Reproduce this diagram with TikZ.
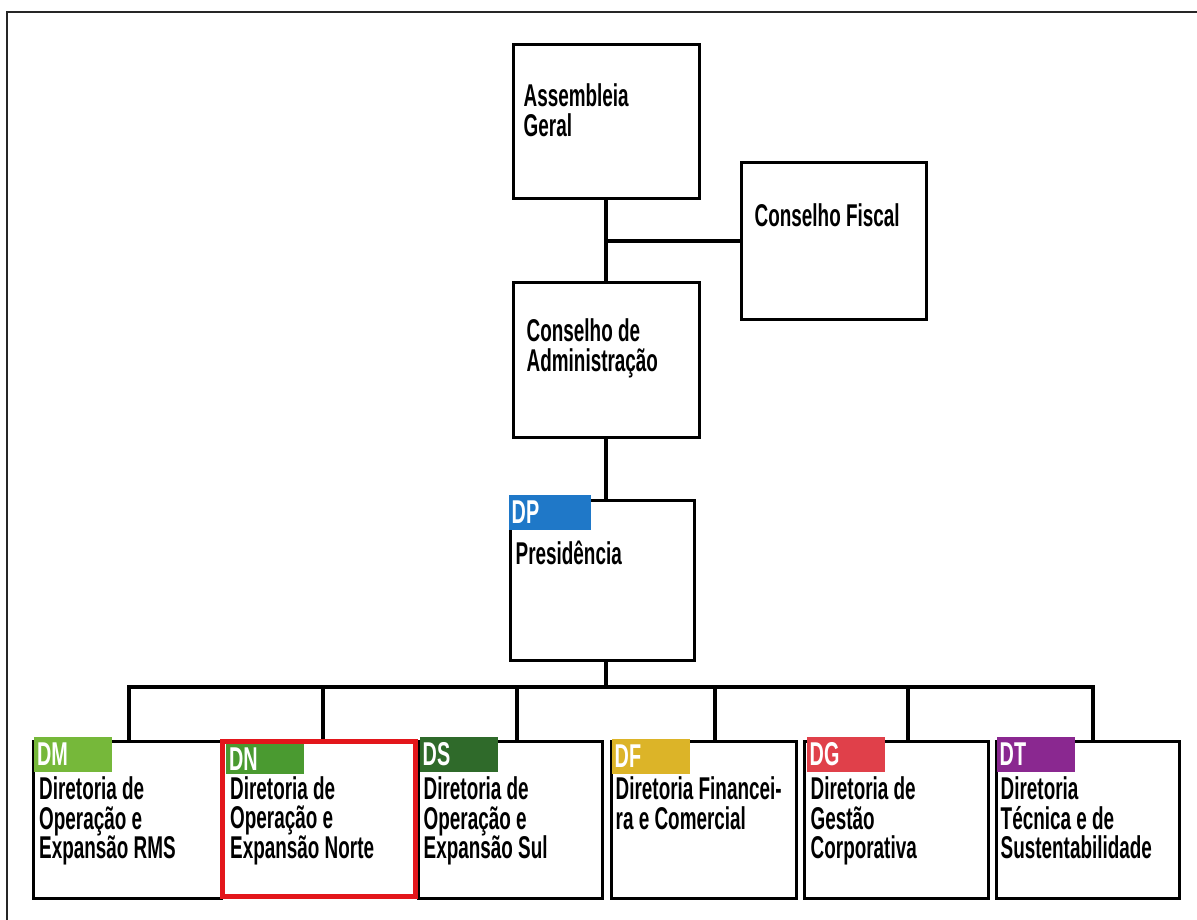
\documentclass[tikz,border=0pt]{standalone}
\usepackage{fontspec}
\setmainfont{Liberation Sans}[FakeStretch=0.69,BoldFeatures={FakeStretch=0.6}]
\usetikzlibrary{calc}
\definecolor{cDP}{HTML}{1F78C8}
\definecolor{cDM}{HTML}{76B83A}
\definecolor{cDN}{HTML}{4A9A30}
\definecolor{cDS}{HTML}{2F6A2A}
\definecolor{cDF}{HTML}{DCB428}
\definecolor{cDG}{HTML}{E0404A}
\definecolor{cDT}{HTML}{8A2890}
\definecolor{cRed}{HTML}{E3161B}

\begin{document}
\begin{tikzpicture}[x=1pt,y=-1pt,
    box/.style={draw,line width=3pt,inner sep=0pt},
    conn/.style={line width=4pt},
    txt/.style={anchor=north west,align=left,inner sep=0pt,font=\fontsize{31.5}{29.5}\selectfont\bfseries},
    tag/.style={fill=#1,text=white,anchor=north west,inner xsep=3pt,inner ysep=0pt,text width=72pt,minimum height=35pt,font=\fontsize{33}{33}\selectfont\bfseries}]
        \useasboundingbox (0,0) rectangle (1197,919);
        \draw[line width=2pt,black!85] (7,925) -- (7,12) -- (1205,12);
        % top of the chart
        \node[box,minimum width=186,minimum height=154] (ag) at (606,121) {};
        \node[box,minimum width=185,minimum height=157] (cf) at (833.5,240.5) {};
        \node[box,minimum width=186,minimum height=155] (ca) at (606,359.5) {};
        \node[box,minimum width=184,minimum height=160] (dp) at (602,580) {};
        \node[txt] (agt) at ([shift={(12,41)}]ag.north west) {Assembleia\\Geral};
        \node[txt] (cft) at ([shift={(15,43)}]cf.north west) {Conselho Fiscal};
        \node[txt] (cat) at ([shift={(15,38)}]ca.north west) {Conselho de\\Administração};
        \node[tag=cDP,text width=76pt] (dptag) at ([shift={(0,-4)}]dp.north west) {DP};
        \node[txt] (dpt) at ([shift={(7,42)}]dp.north west) {Presidência};
        \draw[conn] (ag) -- (ca);
        \draw[conn] (cf.west) -- (cf.west -| ag.south);
        \draw[conn] (ca.south) -- (ca.south |- dp.north);
        % directorates
        \node[box,minimum width=188,minimum height=157] (dm) at (127.5,819.5) {};
        \node[box,minimum width=184,minimum height=157] (ds) at (510,819.5) {};
        \node[box,minimum width=185,minimum height=157] (df) at (703.5,819.5) {};
        \node[box,minimum width=184,minimum height=157] (dg) at (896,819.5) {};
        \node[box,minimum width=183,minimum height=157] (dt) at (1087.5,819.5) {};
        \node[box,draw=cRed,line width=5pt,fill=white,minimum width=193,minimum height=155] (dn) at (319,819) {};
        \node[tag=cDM] (dmtag) at ([shift={(2,-3)}]dm.north west) {DM};
        \node[tag=cDN,minimum height=30pt] (dntag) at ([shift={(6,4.5)}]dn.north west) {DN};
        \node[tag=cDS] (dstag) at ([shift={(3,-3)}]ds.north west) {DS};
        \node[tag=cDF] (dftag) at ([shift={(2,-1)}]df.north west) {DF};
        \node[tag=cDG] (dgtag) at ([shift={(4,-3)}]dg.north west) {DG};
        \node[tag=cDT] (dttag) at ([shift={(2,-3)}]dt.north west) {DT};
        \node[txt] (dmt) at ([shift={(7,37)}]dm.north west) {Diretoria de\\Operação e\\Expansão RMS};
        \node[txt] (dnt) at ([shift={(10,37)}]dn.north west) {Diretoria de\\Operação e\\Expansão Norte};
        \node[txt] (dst) at ([shift={(7,37)}]ds.north west) {Diretoria de\\Operação e\\Expansão Sul};
        \node[txt] (dft) at ([shift={(6,37)}]df.north west) {Diretoria Financei-\\ra e Comercial};
        \node[txt] (dgt) at ([shift={(8,37)}]dg.north west) {Diretoria de\\Gestão\\Corporativa};
        \node[txt] (dtt) at ([shift={(6,37)}]dt.north west) {Diretoria\\Técnica e de\\Sustentabilidade};
        \coordinate (bus) at (606,687);
        \draw[conn] (ca.south |- dp.south) -- (bus);
        \draw[conn,line cap=rect] ([xshift=1]dm.north |- bus) -- ([xshift=5.5]dt.north |- bus);
        \foreach \b/\dx in {dm/1,dn/4,ds/7,df/11.5,dg/12,dt/5.5}
            \draw[conn] ([xshift=\dx]\b.north) -- ([xshift=\dx]\b.north |- bus);
    \end{tikzpicture}
\end{document}
